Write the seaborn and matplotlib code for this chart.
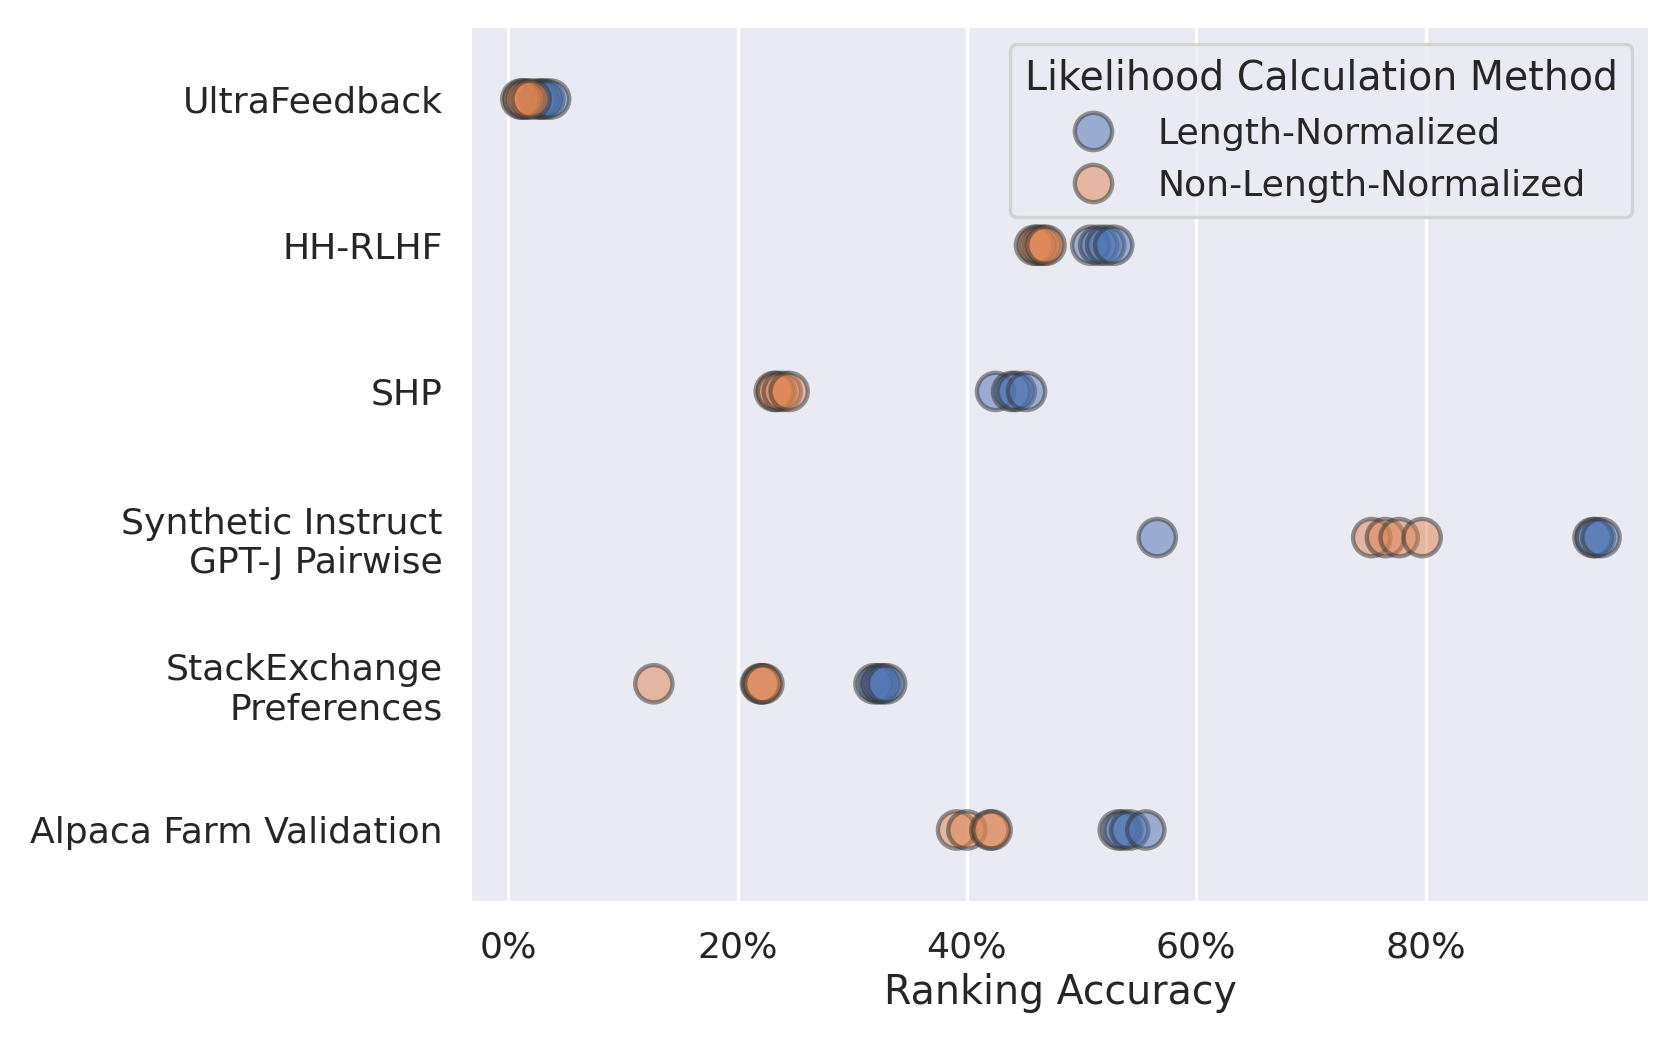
import numpy as np
import pandas as pd
import matplotlib
matplotlib.use("Agg")
import matplotlib.pyplot as plt
from matplotlib.ticker import PercentFormatter
import seaborn as sns

datasets = [
    "UltraFeedback",
    "HH-RLHF",
    "SHP",
    "Synthetic Instruct\nGPT-J Pairwise",
    "StackExchange\nPreferences",
    "Alpaca Farm Validation",
]
methods = ["Length-Normalized", "Non-Length-Normalized"]

# ranking accuracy per model, one list per dataset
length_norm = [
    [0.026, 0.029, 0.032, 0.037],
    [0.508, 0.515, 0.521, 0.528],
    [0.425, 0.439, 0.443, 0.452],
    [0.566, 0.946, 0.948, 0.953],
    [0.319, 0.323, 0.326, 0.330],
    [0.532, 0.536, 0.542, 0.556],
]
non_length_norm = [
    [0.011, 0.013, 0.016, 0.020],
    [0.459, 0.462, 0.466, 0.469],
    [0.232, 0.234, 0.239, 0.245],
    [0.753, 0.765, 0.777, 0.797],
    [0.127, 0.220, 0.221, 0.223],
    [0.391, 0.400, 0.420, 0.422],
]

rows = []
for ds, ln, nln in zip(datasets, length_norm, non_length_norm):
    for v in ln:
        rows.append({"Dataset": ds, "Method": methods[0], "Accuracy": v})
    for v in nln:
        rows.append({"Dataset": ds, "Method": methods[1], "Accuracy": v})
df = pd.DataFrame(rows)

sns.set_theme(context="talk", style="darkgrid")

fig, ax = plt.subplots(figsize=(1662 / 158, 1038 / 158))
sns.stripplot(
    data=df, x="Accuracy", y="Dataset", hue="Method",
    order=datasets, hue_order=methods,
    jitter=False, size=17, alpha=0.5,
    edgecolor="#333333", linewidth=2, ax=ax,
)

ax.set_xlim(-0.033, 0.996)
ax.xaxis.set_major_formatter(PercentFormatter(1.0, decimals=0))
ax.set_xlabel("Ranking Accuracy")
ax.set_ylabel("")

leg = ax.legend(title="Likelihood Calculation Method", loc="upper right")

plt.subplots_adjust(left=0.283, right=0.993, top=0.975, bottom=0.13)
plt.savefig("out.png", dpi=158)
plt.close()
